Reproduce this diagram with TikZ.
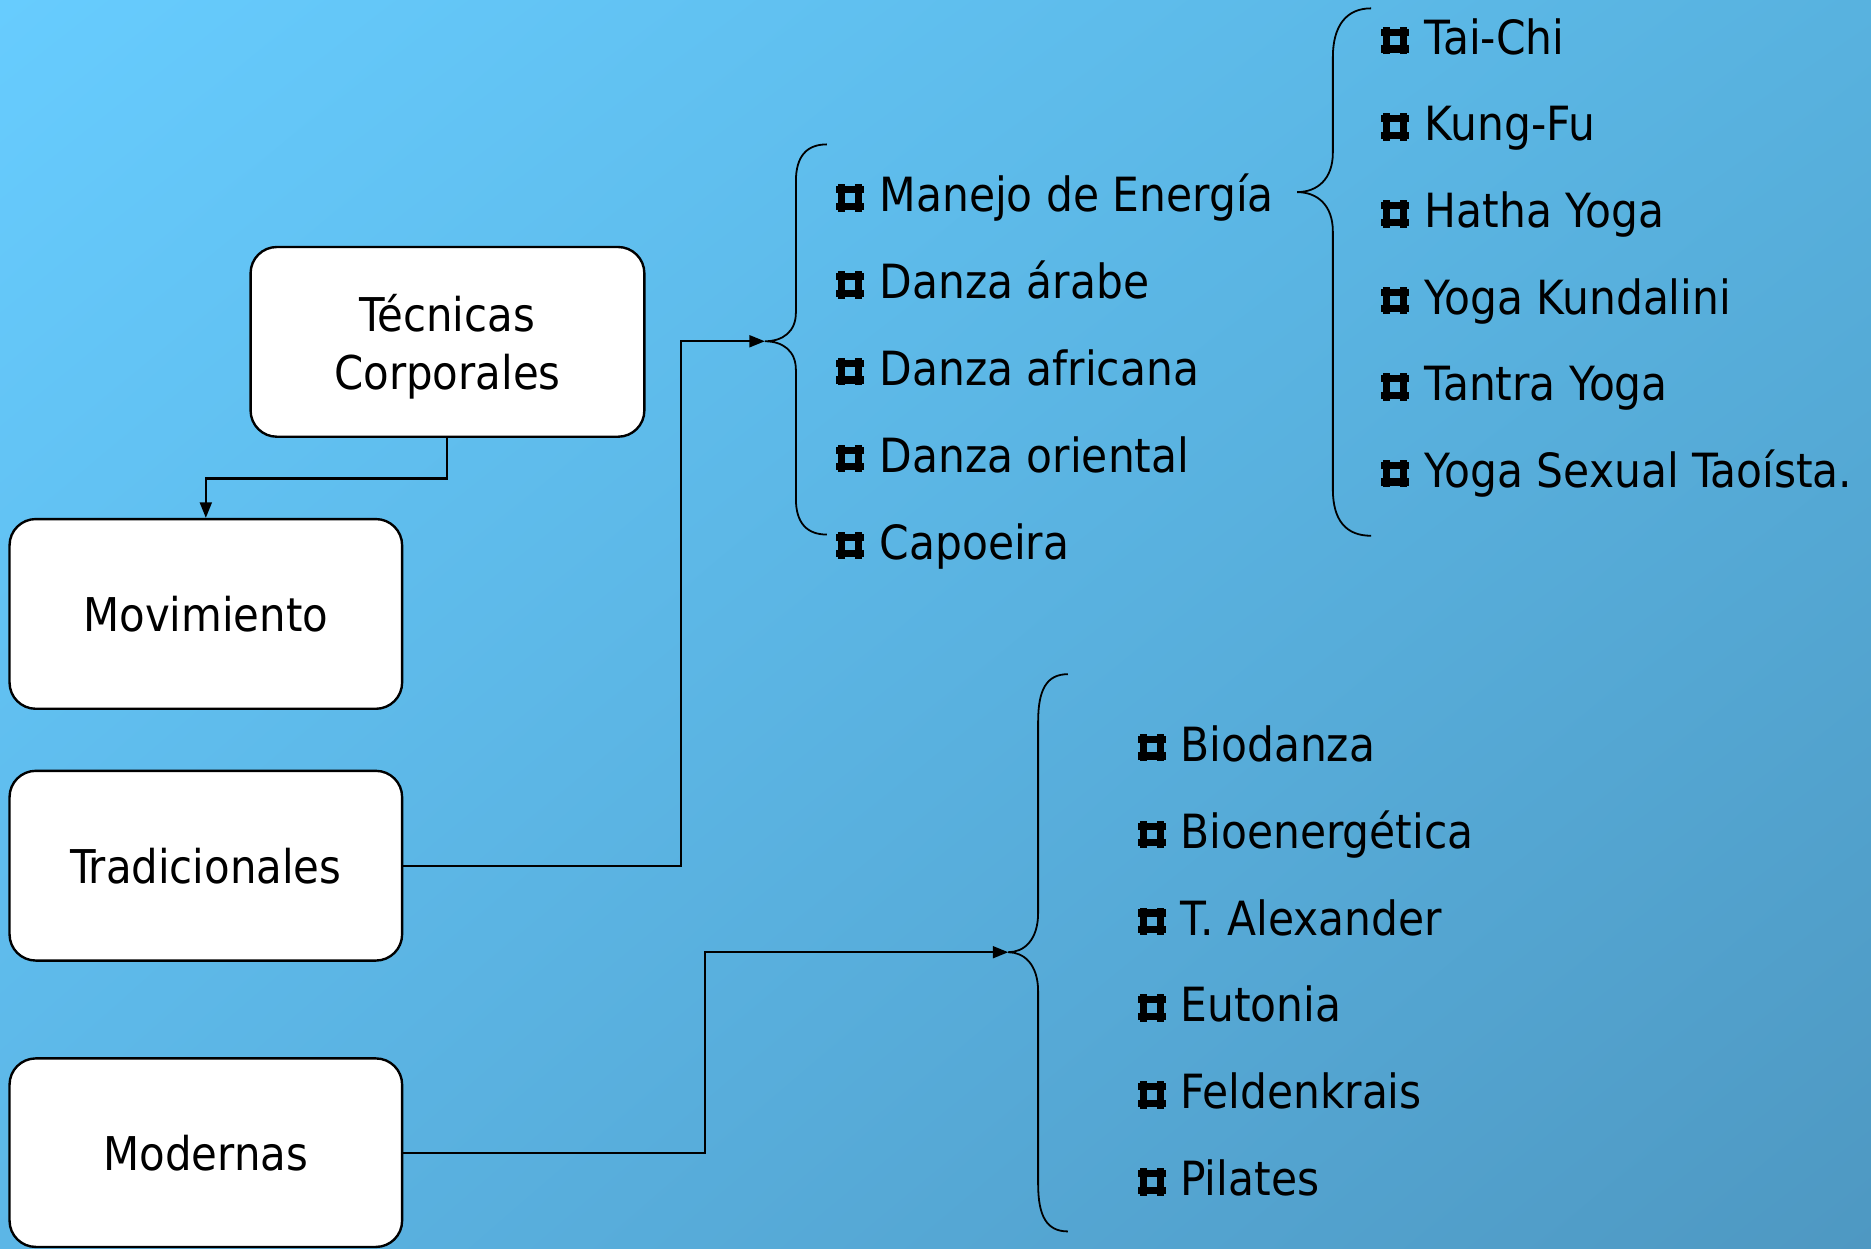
\documentclass[tikz,border=0pt]{standalone}
\usepackage{fontspec}
\setmainfont{DejaVu Sans Condensed}
\usetikzlibrary{arrows.meta,shadings}
\definecolor{bgUL}{HTML}{67CCFE}
\definecolor{bgUR}{HTML}{58B2DF}
\definecolor{bgLL}{HTML}{5CB6E6}
\definecolor{bgLR}{HTML}{4E98C2}
\tikzset{
  box/.style={draw=black, line width=2pt, fill=white, rounded corners=22pt,
    minimum width=329pt, minimum height=159pt, align=center, inner sep=0pt,
    font=\fontsize{39}{49}\selectfont},
  boxtext/.style={align=center, inner sep=0pt, font=\fontsize{39}{49}\selectfont},
  item/.style={anchor=base west, inner sep=0pt, font=\fontsize{39.5}{49}\selectfont},
  conn/.style={draw=black, line width=1.7pt},
  arr/.style={conn, -{Triangle[length=13pt,width=10pt]}},
  brace/.style={draw=black, line width=1.5pt},
  bulletmark/.pic={
    \fill (1.5,0) rectangle (7.5,-23);
    \fill (15.5,0) rectangle (21.5,-23);
    \fill (0,-1.5) rectangle (23,-7.5);
    \fill (0,-15.5) rectangle (23,-21.5);
  }
}
\begin{document}
\begin{tikzpicture}[x=1pt,y=-1pt]
\useasboundingbox (0,0) rectangle (1568,1046);
\shade[upper left=bgUL, upper right=bgUR, lower left=bgLL, lower right=bgLR] (0,0) rectangle (1568,1046);

% boxes
\node[box, minimum width=330pt] (tec) at (375,286.5) {};
\node[boxtext] (tectext) at (375,290.5) {Técnicas\\Corporales};
\node[box] (mov) at (172.5,514.5) {Movimiento};
\node[box] (trad) at (172.5,725.5) {Tradicionales};
\node[box, minimum height=158pt] (mod) at (172.5,966) {Modernas};

% brace tips
\coordinate (b1tip) at (641,286);
\coordinate (b2tip) at (1087,161);
\coordinate (b3tip) at (845,798);

% connectors
\draw[arr] (tec.south) -- ++(0,34) -| (mov.north);
\draw[arr] (trad.east) -- ++(233,0) |- (b1tip);
\draw[arr] (mod.east) -- ++(253,0) |- (b3tip);

% brace 1
\draw[brace] (693,121) .. controls (676,121) and (667,131) .. (667,152)
  -- (667,262) .. controls (667,278) and (656,286) .. (b1tip)
  .. controls (656,286) and (667,294) .. (667,310)
  -- (667,418) .. controls (667,438) and (676,448) .. (693,448);
% brace 2
\draw[brace] (1149,7) .. controls (1128,7) and (1117,22) .. (1117,48)
  -- (1117,128) .. controls (1117,150) and (1104,161) .. (b2tip)
  .. controls (1104,161) and (1117,172) .. (1117,194)
  -- (1117,410) .. controls (1117,436) and (1128,449) .. (1149,449);
% brace 3
\draw[brace] (895,565) .. controls (877,565) and (870,578) .. (870,605)
  -- (870,765) .. controls (870,788) and (858,798) .. (b3tip)
  .. controls (858,798) and (870,808) .. (870,831)
  -- (870,992) .. controls (870,1019) and (877,1032) .. (895,1032);

% list 1
\foreach \t [count=\i] in {Manejo de Energía, Danza árabe, Danza africana, Danza oriental, Capoeira}{
  \pic at (701,{177.4+72.8*(\i-1)}) {bulletmark};
  \node[item] (a\i) at (737,{177.4+72.8*(\i-1)}) {\t};
}
% list 2
\foreach \t [count=\i] in {Tai-Chi, Kung-Fu, Hatha Yoga, Yoga Kundalini, Tantra Yoga, Yoga Sexual Taoísta.}{
  \pic at (1157.5,{45.5+72.6*(\i-1)}) {bulletmark};
  \node[item] (b\i) at (1194,{45.5+72.6*(\i-1)}) {\t};
}
% list 3
\foreach \t [count=\i] in {Biodanza, Bioenergética, T. Alexander, Eutonia, Feldenkrais, Pilates}{
  \pic at (954,{638+72.8*(\i-1)}) {bulletmark};
  \node[item] (c\i) at (989,{638+72.8*(\i-1)}) {\t};
}
\end{tikzpicture}
\end{document}
